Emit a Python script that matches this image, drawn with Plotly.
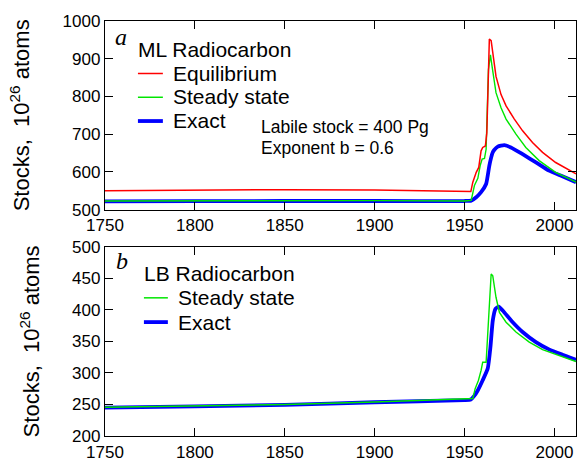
import plotly.graph_objects as go

# ---- Panel a: ML radiocarbon stocks (10^26 atoms) ----
ml_eq_years = [1750, 1800, 1850, 1900, 1930, 1950, 1953.5, 1954.6, 1956.5, 1957.9,
               1959.2, 1960.1, 1961.6, 1962.4, 1963.3, 1963.8, 1964.8, 1965.7,
               1967.5, 1970.3, 1973.1, 1977.7, 1982.3, 1987.8, 1993.4, 2000.7,
               2008.1, 2012]
ml_eq_vals = [550, 551.5, 553, 552, 550, 547, 548, 573, 599, 612,
              656, 665, 669, 704, 915, 952, 948, 915,
              853, 805, 775, 740, 709, 678, 652, 625,
              604, 595]

ml_ss_years = [1750, 1800, 1850, 1900, 1950, 1953.7, 1955.5, 1957.4, 1958.7, 1959.8,
               1961.1, 1962.0, 1963.3, 1964.4, 1965.7, 1967.5, 1970.3, 1973.1,
               1978.6, 1984.1, 1991.5, 2000.7, 2012]
ml_ss_vals = [523, 523.5, 524, 524, 523, 524.5, 564, 583, 617, 634,
              636, 660, 871, 910, 867, 810, 770, 740,
              700, 665, 630, 599, 573]

ml_ex_years = [1750, 1800, 1850, 1900, 1950, 1953.7, 1956.5, 1959.2, 1962, 1963.8,
               1964.8, 1965.7, 1966.5, 1968.5, 1972.1, 1975.8, 1982.3, 1989.7,
               1997, 2004.4, 2012]
ml_ex_vals = [522, 522.5, 523, 523, 523, 524, 533, 546.5, 568, 617,
              638, 652, 658, 667, 671, 665, 647, 625.5,
              603.5, 588.6, 573]

# ---- Panel b: LB radiocarbon stocks ----
lb_ss_years = [1750, 1800, 1850, 1900, 1950, 1954.6, 1955.9, 1957.7, 1959.2, 1960.1,
               1962, 1962.9, 1964.3, 1964.8, 1965.7, 1967.5, 1969.4, 1973.1,
               1978.6, 1986, 1993.4, 2000.7, 2012]
lb_ss_vals = [245.5, 247.5, 250, 254, 258, 259.5, 275, 288, 304, 317,
              317, 367, 440, 457, 454, 420, 396, 380.5,
              365, 349, 337, 329.5, 318]

lb_ex_years = [1750, 1800, 1850, 1900, 1950, 1953.5, 1955.5, 1957.4, 1960.1, 1962.9,
               1964.4, 1965.7, 1967.2, 1969, 1971.2, 1976.8, 1982.3, 1989.7,
               1997, 2004.4, 2012]
lb_ex_vals = [245, 247, 249.5, 253.5, 257, 258, 264, 272.6, 288.4, 307,
              341, 383, 401.6, 405, 399, 380.5, 365, 349,
              337.4, 329, 321]

x_ticks = [1750, 1800, 1850, 1900, 1950, 2000]
ml_y_ticks = [500, 600, 700, 800, 900, 1000]
lb_y_ticks = [200, 250, 300, 350, 400, 450, 500]

RED = "#ff0000"
GREEN = "#00e600"
BLUE = "#0000ff"
FONT = "Liberation Sans, Arial, Helvetica, sans-serif"
SERIF = "Liberation Serif, Times New Roman, serif"

W, H = 577, 462
ML, MR, MT, MB = 105, 0, 21, 22
PW, PH = W - ML - MR, H - MT - MB


def px(xp):
    return (xp - ML) / PW


def py(yp):
    return (H - MB - yp) / PH


fig = go.Figure()

# the exact solution is a smooth curve; draw it as a gentle spline
fig.add_trace(go.Scatter(x=ml_ex_years, y=ml_ex_vals, mode="lines", name="Exact",
                         line=dict(color=BLUE, width=3.8, shape="spline", smoothing=0.5),
                         xaxis="x", yaxis="y"))
fig.add_trace(go.Scatter(x=ml_ss_years, y=ml_ss_vals, mode="lines", name="Steady state",
                         line=dict(color=GREEN, width=1.4), xaxis="x", yaxis="y"))
fig.add_trace(go.Scatter(x=ml_eq_years, y=ml_eq_vals, mode="lines", name="Equilibrium",
                         line=dict(color=RED, width=1.5), xaxis="x", yaxis="y"))
fig.add_trace(go.Scatter(x=lb_ex_years, y=lb_ex_vals, mode="lines", name="Exact",
                         line=dict(color=BLUE, width=3.8, shape="spline", smoothing=0.5),
                         xaxis="x2", yaxis="y2"))
fig.add_trace(go.Scatter(x=lb_ss_years, y=lb_ss_vals, mode="lines", name="Steady state",
                         line=dict(color=GREEN, width=1.4), xaxis="x2", yaxis="y2"))

axis_common = dict(showline=True, linecolor="black", linewidth=1.3, mirror="ticks",
                   ticks="inside", ticklen=8, tickwidth=1.2, tickcolor="black",
                   showgrid=False, zeroline=False,
                   tickfont=dict(family=FONT, size=17, color="black"))

ytitle = dict(text="Stocks,  10<sup>26</sup> atoms",
              font=dict(family=FONT, size=22, color="black"), standoff=26)

top_dom = [py(211.5), 1.0]
bot_dom = [0.0, py(249)]

fig.update_layout(
    width=W, height=H,
    margin=dict(l=ML, r=MR, t=MT, b=MB),
    paper_bgcolor="white", plot_bgcolor="white",
    showlegend=False,
    xaxis=dict(axis_common, range=[1750, 2012], tickvals=x_ticks,
               domain=[0, 1], anchor="y"),
    yaxis=dict(axis_common, range=[500, 1000], tickvals=ml_y_ticks,
               domain=top_dom, anchor="x", title=ytitle),
    xaxis2=dict(axis_common, range=[1750, 2012], tickvals=x_ticks,
                domain=[0, 1], anchor="y2"),
    yaxis2=dict(axis_common, range=[200, 500], tickvals=lb_y_ticks,
                domain=bot_dom, anchor="x2", title=ytitle),
)

annotations = []


def label(text, xp, yp, size, family=FONT, anchor="left"):
    annotations.append(dict(text=text, x=px(xp), y=py(yp), xref="paper", yref="paper",
                            xanchor=anchor, yanchor="middle", showarrow=False,
                            font=dict(family=family, size=size, color="black")))


# panel tags
label("<i>a</i>", 121, 37, 24, family=SERIF, anchor="center")
label("<i>b</i>", 122, 263, 24, family=SERIF, anchor="center")

# key for panel a
label("ML Radiocarbon", 136, 50, 21)
label("Equilibrium", 171, 74, 21)
label("Steady state", 171, 97.5, 21)
label("Exact", 171, 121, 21)
label("Labile stock = 400 Pg", 259, 128.5, 17.5)
label("Exponent b = 0.6", 259, 149, 17.5)

# key for panel b
label("LB Radiocarbon", 142, 276, 21)
label("Steady state", 176, 300.5, 21)
label("Exact", 176, 325, 21)

shapes = []


def key_line(x0, x1, yp, color, width):
    shapes.append(dict(type="line", xref="paper", yref="paper",
                       x0=px(x0), x1=px(x1), y0=py(yp), y1=py(yp),
                       line=dict(color=color, width=width)))


key_line(138, 163, 74, RED, 1.5)
key_line(138, 163, 98, GREEN, 1.5)
key_line(138, 163, 122, BLUE, 3.8)
key_line(144, 168, 300.5, GREEN, 1.5)
key_line(144, 168, 325, BLUE, 3.8)

fig.update_layout(annotations=annotations, shapes=shapes)

fig.write_html("out.html")
